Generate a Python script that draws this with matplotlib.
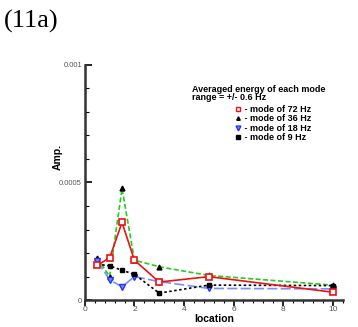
import numpy as np
import matplotlib.pyplot as plt
from matplotlib.lines import Line2D

# measurement locations
location = [0.5, 1, 1.5, 2, 3, 5, 10]

# averaged energy of each mode (range = +/- 0.6 Hz)
amp_72 = [0.000148, 0.000180, 0.000330, 0.000170, 0.000077, 0.000100, 0.000034]
amp_36 = [0.000180, 0.000100, 0.000475, 0.000170, 0.000142, 0.000105, 0.000064]
amp_18 = [0.000167, 0.000087, 0.000057, 0.000100, 0.000079, 0.000050, 0.000048]
amp_9 = [0.000153, 0.000146, 0.000127, 0.000110, 0.000030, 0.000064, 0.000062]

labels = [" - mode of 72 Hz", " - mode of 36 Hz", " - mode of 18 Hz", " - mode of 9 Hz"]

plt.rcParams['font.family'] = ['Liberation Sans', 'DejaVu Sans']

fig = plt.figure(figsize=(3.58, 3.27), dpi=100)
ax = fig.add_axes([0.237, 0.082, 0.72, 0.72])

ax.plot(location, amp_36, color='#22cc22', ls=(0, (3, 1.5)), lw=1.2,
        marker='^', ms=3.5, mfc='black', mec='black', zorder=3)
ax.plot(location, amp_18, color='#7a8cff', ls=(0, (6, 2)), lw=1.2,
        marker='v', ms=4, mfc='#7a8cff', mec='#2233ff', zorder=3)
ax.plot(location, amp_9, color='black', ls=(0, (1.5, 1.5)), lw=1.2,
        marker='s', ms=3.5, mfc='black', mec='black', zorder=3)
ax.plot(location, amp_72, color='#ee1111', ls='-', lw=1.2,
        marker='s', ms=5, mfc='white', mec='#ee1111', mew=1.2, zorder=4)

ax.set_xlim(0, 10.4)
ax.set_ylim(0, 0.001)
ax.set_xticks([0, 2, 4, 6, 8, 10])
ax.set_xticks(np.arange(0, 10.41, 0.4), minor=True)
ax.set_yticks([0, 0.0005, 0.001])
ax.set_yticklabels(['0', '0.0005', '0.001'])
ax.set_yticks(np.arange(0, 0.00101, 0.0001), minor=True)

for s in ['top', 'right']:
    ax.spines[s].set_visible(False)
for s in ['left', 'bottom']:
    ax.spines[s].set_linewidth(1.8)
    ax.spines[s].set_color('#333333')

ax.tick_params(axis='y', which='major', direction='in', length=5, width=1.2,
               labelsize=5.5, labelcolor='#555555', pad=2)
ax.tick_params(axis='y', which='minor', direction='in', length=3, width=0.8)
ax.tick_params(axis='x', which='major', direction='out', length=4, width=1.2,
               labelsize=6, labelcolor='#555555', pad=0.5)
ax.tick_params(axis='x', which='minor', direction='out', length=2.5, width=0.8)

ax.set_xlabel('location', fontsize=7.5, fontweight='bold', labelpad=0.5)
ax.set_ylabel('Amp.', fontsize=7.5, fontweight='bold')
ax.yaxis.set_label_coords(-0.085, 0.61)

fig.text(0.012, 0.97, '(11a)', fontsize=19, family='Liberation Serif', va='top')

ax.text(0.415, 0.915, 'Averaged energy of each mode\nrange = +/- 0.6 Hz',
        transform=ax.transAxes, fontsize=6.5, fontweight='bold',
        va='top', linespacing=0.95)

handles = [
    Line2D([], [], ls='none', marker='s', ms=3.5, mfc='white', mec='#ee1111', mew=1),
    Line2D([], [], ls='none', marker='^', ms=2.5, mfc='black', mec='black'),
    Line2D([], [], ls='none', marker='v', ms=3.5, mfc='#7a8cff', mec='#2233ff'),
    Line2D([], [], ls='none', marker='s', ms=3, mfc='black', mec='black'),
]
leg = ax.legend(handles, labels, loc='upper left', bbox_to_anchor=(0.585, 0.83),
                frameon=False, prop={'size': 6.5, 'weight': 'bold'},
                handlelength=0.6, handletextpad=0.05, labelspacing=0.05,
                borderpad=0, borderaxespad=0)

fig.savefig('out.png', dpi=100)
